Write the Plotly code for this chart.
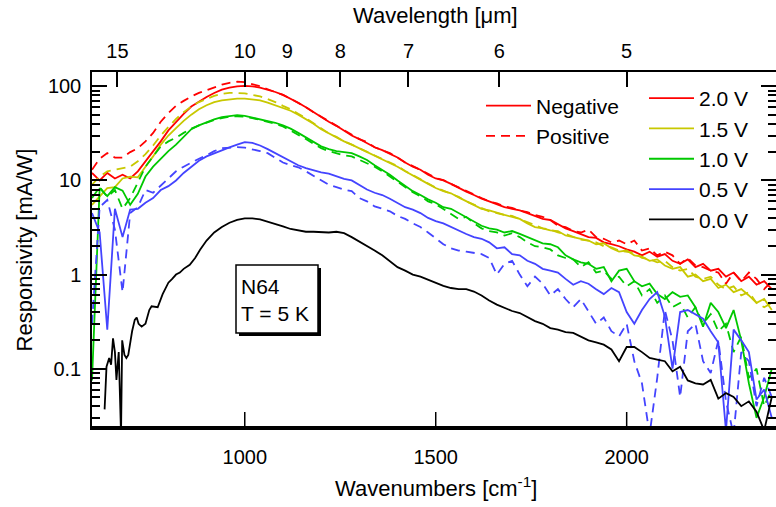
import plotly.graph_objects as go

# ---------------- data ----------------
wn = list(range(600, 2381, 20))  # wavenumber grid [cm^-1]

neg_20 = [12, 10, 12, 10.5, 11.5, 10.5, 12.5, 16, 20, 26,
          34, 42, 51, 61, 69, 77, 85, 92, 97, 100,
          101, 100, 97, 92, 87, 81, 74, 67, 60, 53,
          47, 42, 38, 34, 30, 27.5, 25, 22.5, 21, 19,
          17.5, 15.5, 14, 13, 11.5, 10.5, 10, 9.2, 8.3, 7.6,
          7.0, 6.4, 6.0, 5.6, 5.2, 5.0, 4.8, 4.5, 4.2, 3.9,
          3.8, 3.4, 3.1, 2.9, 2.7, 2.5, 2.45, 2.2, 2.1, 2.0,
          1.85, 1.75, 1.6, 1.75, 1.55, 1.65, 1.4, 1.3, 1.45, 1.2,
          1.3, 1.1, 1.15, 0.95, 1.05, 0.85, 0.95, 0.78, 0.85, 0.7]
pos_20 = [13, 17, 19.5, 17.5, 17.5, 20, 22, 26, 32, 42,
          52, 62, 70, 78, 85, 91, 98, 104, 109, 112,
          111, 106, 100, 93, 87, 81, 74, 67, 60, 53,
          47.5, 42.5, 38, 34.5, 30.5, 27.5, 25.5, 22.5, 21, 19.5,
          17.5, 15.5, 14.2, 13, 11.8, 10.6, 10.1, 9.2, 8.4, 7.7,
          7.1, 6.5, 6.0, 5.7, 5.3, 5.1, 4.8, 4.6, 4.3, 4.1,
          3.8, 3.3, 3.2, 2.9, 2.8, 3.0, 2.5, 2.4, 2.2, 2.3,
          2.1, 2.3, 1.8, 1.9, 1.6, 1.75, 1.6, 1.3, 1.5, 1.25,
          1.2, 1.1, 1.05, 0.8, 1.05, 0.85, 1.05, 0.9, 0.7, 0.85]
neg_15 = [5.5, 6.8, 8.3, 8.5, 10.5, 11, 10.8, 14, 18, 24,
          30, 36, 43, 50, 57, 63, 68, 71, 73, 74,
          74, 73, 71, 67, 63, 59, 55, 50, 45, 40,
          35, 31.5, 28.5, 26, 24, 22, 20, 18.5, 17, 15.5,
          14, 12.5, 11.2, 10.2, 9.2, 8.3, 7.7, 7.3, 6.6, 6.0,
          5.4, 5.0, 4.8, 4.5, 4.3, 4.1, 3.9, 3.5, 3.2, 3.1,
          2.95, 2.9, 2.6, 2.5, 2.4, 2.3, 2.1, 2.15, 1.9, 1.75,
          1.8, 1.6, 1.55, 1.4, 1.45, 1.25, 1.15, 1.2, 0.95, 1.0,
          0.85, 0.9, 0.72, 0.78, 0.65, 0.7, 0.6, 0.5, 0.55, 0.42]
pos_15 = [9, 11, 12.5, 13, 13.5, 14, 16, 19, 23.5, 30,
          37, 45, 53, 61, 68, 74, 79, 83, 85, 85,
          84, 81, 78, 73, 68, 62, 57, 51, 46, 40.5,
          35.5, 31.5, 29, 26, 24, 22, 20.5, 18.5, 17, 15.5,
          14.2, 12.6, 11.4, 10.2, 9.2, 8.4, 7.8, 7.2, 6.7, 6.0,
          5.5, 5.1, 4.7, 4.5, 4.3, 4.2, 3.9, 3.6, 3.3, 3.1,
          3.0, 2.8, 2.7, 2.5, 2.35, 2.3, 2.2, 2.0, 1.95, 1.8,
          1.75, 1.7, 1.5, 1.45, 1.35, 1.4, 1.2, 1.1, 1.15, 0.95,
          0.9, 0.95, 0.78, 0.7, 0.75, 0.6, 0.65, 0.5, 0.45, 0.5]
neg_10 = [0.075, 8.3, 6.8, 8.5, 7.8, 5.5, 7.2, 11, 14, 17,
          20.5, 24, 29, 35, 38.5, 41.5, 44.5, 47, 48.5, 49.5,
          48.5, 46.5, 45, 43.5, 41, 38.5, 35.5, 32, 28.5, 25.5,
          23, 21.5, 20.5, 20, 19.5, 18, 16.5, 14.5, 13, 11.5,
          10, 8.7, 7.7, 7.0, 6.3, 5.8, 5.2, 5.0, 4.5, 4.0,
          3.6, 3.3, 3.1, 3.0, 2.8, 2.9, 2.7, 2.5, 2.3, 2.15,
          2.1, 1.95, 1.6, 1.45, 1.35, 1.3, 1.15, 1.2, 0.85, 1.1,
          1.15, 0.85, 0.75, 0.8, 0.62, 0.55, 0.65, 0.58, 0.6, 0.45,
          0.28, 0.5, 0.4, 0.27, 0.42, 0.2, 0.07, 0.03, 0.05, 0.1]
pos_10 = [6.5, 8.5, 6.7, 7.9, 5.0, 6.5, 9.5, 14, 18, 23,
          26, 28.5, 32, 35.5, 38.5, 41.5, 44, 46, 47.5, 48,
          47.5, 46, 44, 42, 40, 37.5, 34, 30.5, 27.5, 24.5,
          22, 20.5, 19.5, 18.5, 18, 16.5, 15, 14, 12.5, 11,
          9.5, 8.5, 7.5, 6.8, 6.0, 5.6, 5.0, 4.4, 3.9, 4.1,
          3.5, 3.1, 2.9, 2.8, 2.6, 2.75, 2.5, 2.2, 2.0, 1.95,
          1.85, 1.6, 1.5, 1.45, 1.2, 1.35, 1.05, 1.1, 0.9, 0.95,
          0.75, 0.85, 0.6, 0.7, 0.5, 0.6, 0.45, 0.5, 0.35, 0.45,
          0.3, 0.38, 0.25, 0.3, 0.15, 0.22, 0.08, 0.1, 0.04, 0.06]
neg_05 = [4.5, 2.8, 0.26, 5.0, 2.5, 4.9, 5.0, 5.8, 6.5, 7.9,
          8.7, 10, 12, 14, 16.2, 18, 19.5, 21, 22.5, 24,
          25.5, 25, 23.5, 21.5, 19.5, 17.5, 16, 14.5, 13.5, 12.8,
          12.2, 11.8, 11, 10.4, 10, 9.0, 8.0, 7.4, 7.0, 6.4,
          5.8, 5.2, 4.9, 4.5, 4.0, 3.7, 3.5, 3.2, 2.9, 2.7,
          2.5, 2.4, 2.2, 1.9, 1.95, 1.65, 1.6, 1.4, 1.3, 1.15,
          1.1, 1.05, 0.9, 0.78, 0.85, 0.8, 0.7, 0.62, 0.72, 0.65,
          0.4, 0.3, 0.42, 0.55, 0.65, 0.36, 0.1, 0.4, 0.42, 0.38,
          0.34, 0.25, 0.19, 0.022, 0.26, 0.2, 0.15, 0.047, 0.06, 0.03]
pos_05 = [0.3, 5.2, 6.2, 3.0, 0.65, 4.5, 5.2, 7.9, 7.4, 8.8,
          10.5, 12.5, 14, 15.5, 17, 18.5, 20.5, 22, 22.5, 22.6,
          22.3, 21.5, 20.5, 19.5, 17.5, 15.5, 14.5, 13.8, 12.5, 11.2,
          10, 9.0, 8.5, 8.0, 7.7, 6.5, 6.0, 5.3, 5.0, 4.7,
          4.2, 3.9, 3.5, 3.2, 2.8, 2.4, 2.1, 1.9, 1.8, 1.75,
          1.7, 1.65, 1.5, 1.0, 1.3, 1.4, 1.0, 0.75, 0.95, 0.8,
          0.6, 0.7, 0.55, 0.45, 0.55, 0.4, 0.3, 0.35, 0.25, 0.22,
          0.3, 0.12, 0.07, 0.02, 0.08, 0.42, 0.2, 0.05, 0.25, 0.3,
          0.12, 0.09, 0.2, 0.045, 0.02, 0.15, 0.12, 0.04, 0.08, 0.05]

wn_00 = [633, 638, 645, 650, 655, 660, 664, 670, 676, 679, 685, 690, 695, 705, 712, 717,
         722, 730, 740, 750, 756, 765, 772, 785, 800, 810, 820, 830, 840, 856, 870, 883] \
        + list(range(900, 2381, 20))
v_00 = [0.037, 0.105, 0.13, 0.11, 0.21, 0.15, 0.076, 0.15, 0.02, 0.2, 0.14, 0.13, 0.14, 0.25, 0.33, 0.35,
        0.3, 0.28, 0.3, 0.42, 0.46, 0.45, 0.45, 0.62, 0.82, 0.9, 1.0, 1.05, 1.15, 1.27, 1.5, 1.83,
        2.3, 2.8, 3.2, 3.55, 3.8, 3.95, 3.95, 3.85, 3.65, 3.45,
        3.25, 3.05, 2.95, 2.85, 2.85, 2.8, 2.8, 2.85, 2.75, 2.5,
        2.25, 2.0, 1.8, 1.6, 1.4, 1.2, 1.1, 1.0, 0.95, 0.88,
        0.82, 0.76, 0.72, 0.7, 0.7, 0.66, 0.6, 0.53, 0.48, 0.44,
        0.41, 0.39, 0.35, 0.32, 0.3, 0.27, 0.26, 0.245, 0.24, 0.22,
        0.2, 0.19, 0.18, 0.16, 0.12, 0.17, 0.17, 0.15, 0.13, 0.125,
        0.12, 0.094, 0.105, 0.075, 0.07, 0.068, 0.076, 0.048, 0.055, 0.05,
        0.04, 0.045, 0.035, 0.022, 0.05]

voltages = ["2.0 V", "1.5 V", "1.0 V", "0.5 V"]
colors = ["#ff0000", "#c8c800", "#00c800", "#4444ff"]
neg_series = [neg_20, neg_15, neg_10, neg_05]
pos_series = [pos_20, pos_15, pos_10, pos_05]

wn_ticks = [1000, 1500, 2000]
lam_ticks = [15, 10, 9, 8, 7, 6, 5]          # wavelength tick labels [um]
y_ticks = [0.1, 1, 10, 100]
y_minor = [m * d for d in (0.01, 0.1, 1, 10) for m in range(2, 10)]

# ---------------- figure ----------------
FONT = "Liberation Sans, Arial, sans-serif"
LW = 1.8
DASH = "9px,6px"
XR = [600, 2391]
PLOT_H = 356  # plot-area height in px

fig = go.Figure()
for name, col, yn, yp in zip(voltages, colors, neg_series, pos_series):
    fig.add_trace(go.Scatter(x=wn, y=yp, mode="lines", line=dict(color=col, width=LW, dash=DASH),
                             showlegend=False, hoverinfo="skip"))
    fig.add_trace(go.Scatter(x=wn, y=yn, mode="lines", line=dict(color=col, width=LW),
                             name=name, legend="legend"))
fig.add_trace(go.Scatter(x=wn_00, y=v_00, mode="lines", line=dict(color="black", width=LW),
                         name="0.0 V", legend="legend"))

fig.add_trace(go.Scatter(x=[None], y=[None], mode="lines", line=dict(color="#ff0000", width=LW),
                         name="Negative", legend="legend2"))
fig.add_trace(go.Scatter(x=[None], y=[None], mode="lines", line=dict(color="#ff0000", width=LW, dash=DASH),
                         name="Positive", legend="legend2"))

fig.add_trace(go.Scatter(x=[1000], y=[1], xaxis="x2", mode="markers", marker=dict(opacity=0),
                         showlegend=False, hoverinfo="skip"))

axis_common = dict(showline=True, linecolor="black", linewidth=1.5, ticks="inside",
                   ticklen=15, tickwidth=1.5, tickcolor="black", showgrid=False, zeroline=False,
                   tickfont=dict(size=20, color="black", family=FONT), automargin=False)

fig.update_layout(
    width=776, height=507,
    margin=dict(l=92, r=0, t=72, b=79),
    paper_bgcolor="white", plot_bgcolor="white",
    font=dict(family=FONT, size=20, color="black"),
    xaxis=dict(range=XR, tickvals=wn_ticks, ticks="outside", ticklen=10,
               tickcolor="rgba(0,0,0,0)", showline=True, linecolor="black", linewidth=1.5,
               showgrid=False, zeroline=False,
               automargin=False, tickfont=dict(size=20, color="black", family=FONT)),
    xaxis2=dict(range=XR, overlaying="x", side="top", anchor="y",
                tickvals=[10000 / l for l in lam_ticks], ticktext=[str(l) for l in lam_ticks],
                ticklabelstandoff=4, **axis_common),
    yaxis=dict(type="log", range=[-1.63, 2.152], tickvals=y_ticks,
               ticktext=["0.1", "1", "10", "100"], mirror="ticks", ticklabelstandoff=5,
               minor=dict(tickvals=y_minor, ticks="inside", ticklen=8, tickwidth=1.5,
                          tickcolor="black", showgrid=False),
               title=dict(text="Responsivity [mA/W]", standoff=9, font=dict(size=22, family=FONT)),
               **axis_common),
    legend=dict(x=(644 - 92) / 684, y=(428 - 78) / 356, xanchor="left", yanchor="top",
                bgcolor="rgba(0,0,0,0)", font=dict(size=21, family=FONT), itemwidth=45,
                tracegroupgap=0, traceorder="normal"),
    legend2=dict(x=(481 - 92) / 684, y=(428 - 85.5) / 356, xanchor="left", yanchor="top",
                 bgcolor="rgba(0,0,0,0)", font=dict(size=21, family=FONT), itemwidth=45,
                 tracegroupgap=0, traceorder="normal"),
)

def px_x(p):
    return (p - 92) / 684

def px_y(p):
    return (428 - p) / 356

# bottom axis line and inward ticks (drawn just inside the plot edge)
fig.add_shape(type="line", xref="paper", yref="paper", x0=0, x1=1, y0=1 / PLOT_H, y1=1 / PLOT_H,
              line=dict(color="black", width=2))
for t in wn_ticks:
    fig.add_shape(type="line", xref="x", yref="paper", x0=t, x1=t, y0=1 / PLOT_H, y1=16 / PLOT_H,
                  line=dict(color="black", width=1.5))

fig.add_annotation(xref="paper", yref="paper", x=px_x(436), y=px_y(487), xanchor="center",
                   yanchor="middle", showarrow=False, text="Wavenumbers [cm<sup>-1</sup>]",
                   font=dict(size=22, family=FONT, color="black"))
fig.add_annotation(xref="paper", yref="paper", x=px_x(435), y=px_y(15), xanchor="center",
                   yanchor="middle", showarrow=False, text="Wavelength [μm]",
                   font=dict(size=22, family=FONT, color="black"))

fig.add_shape(type="rect", xref="paper", yref="paper", x0=px_x(239), x1=px_x(321),
              y0=px_y(336), y1=px_y(268), fillcolor="black", line=dict(width=0), layer="above")
fig.add_shape(type="rect", xref="paper", yref="paper", x0=px_x(236), x1=px_x(318),
              y0=px_y(333), y1=px_y(265), fillcolor="white", line=dict(color="black", width=1.5),
              layer="above")
fig.add_annotation(xref="paper", yref="paper", x=px_x(239), y=px_y(300), xanchor="left",
                   yanchor="middle", align="left", showarrow=False,
                   text="N64<br>T = 5 K", font=dict(size=21, family=FONT, color="black"))

fig.write_html("out.html")
